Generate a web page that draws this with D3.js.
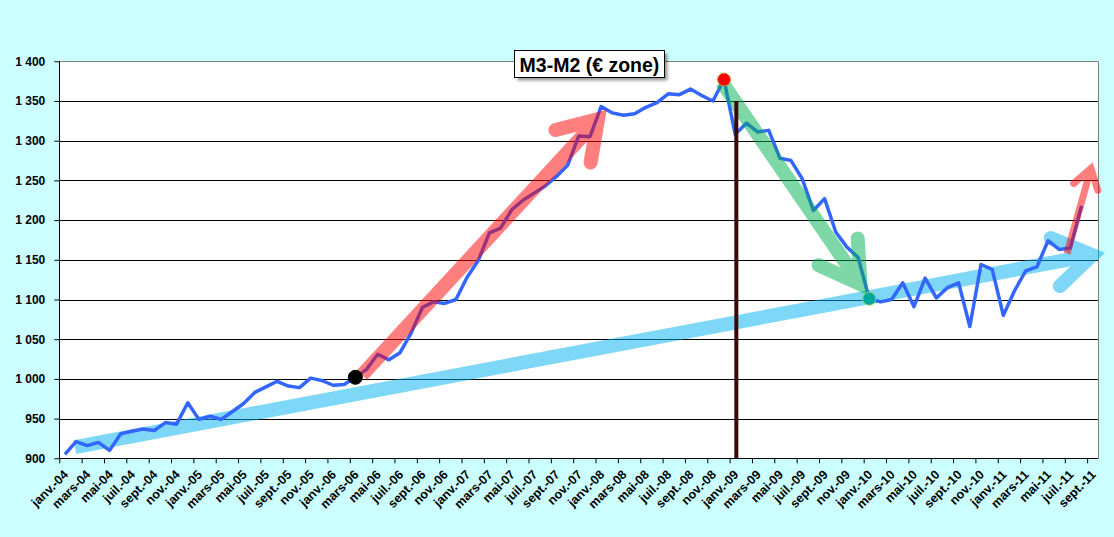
<!DOCTYPE html>
<html><head><meta charset="utf-8">
<script src="https://cdn.jsdelivr.net/npm/d3@7"></script>
<style>html,body{margin:0;padding:0;background:#ccffff;overflow:hidden}</style>
</head><body>
<svg id="c" width="1114" height="537"></svg>
<script>
// ---------- data ----------
const monthNames = ["janv.","févr.","mars","avr.","mai","juin","juil.","août","sept.","oct.","nov.","déc."];
const years = ["04","05","06","07","08","09","10","11"];
const categories = [];
years.forEach(y => monthNames.forEach(m => categories.push(m + "-" + y)));
categories.splice(93); // janv.-04 ... sept.-11

const values = [
  905, 921, 916, 920, 910, 931, 934, 937, 935, 945, 943, 970,
  949, 953, 949, 959, 969, 983, 990, 997, 991, 989, 1001, 998,
  992, 993, 1002, 1012, 1031, 1024, 1033, 1058, 1090, 1097, 1095, 1100,
  1128, 1149, 1184, 1190, 1213, 1225, 1234, 1243, 1255, 1269, 1306, 1305,
  1343, 1335, 1332, 1334, 1342, 1348, 1359, 1358, 1365, 1357, 1350, 1377,
  1308, 1322, 1311, 1313, 1278, 1275, 1252, 1212, 1227, 1185, 1166, 1153,
  1101, 1097, 1100, 1121, 1091, 1127, 1102, 1115, 1121, 1066, 1144, 1138,
  1080, 1111, 1136, 1141, 1174, 1163, 1165, 1218
];
const yTicks = [900, 950, 1000, 1050, 1100, 1150, 1200, 1250, 1300, 1350, 1400];
const xLabelEvery = 2;
const titleText = "M3-M2 (€ zone)";

// markers on data points (category index)
const markerIdx = [26, 59, 72];
// annotation arrows in data coordinates [month index, value]
const arrowFrom = [[0.9, 914], [26.6, 1005], [58.8, 1374], [89.7, 1158]];
const arrowTo   = [[93.1, 1159], [48.5, 1339], [71.9, 1105], [92.0, 1273]];
// vertical marker line [month index, from value, to value]
const vLine = [60.1, 1350, 900];

// ---------- styles ----------
const markerStyle = [
  {r: 7, fill: "#000000", stroke: "#000000"},
  {r: 6.5, fill: "#ff0000", stroke: "#c0a040"},
  {r: 6.5, fill: "#00a99d", stroke: "#8fd06a"}
];
const arrowStyle = [
  {color: "#00b0f0", w: 14, L: 45, angle: 33, opacity: 0.5},
  {color: "#ff0000", w: 14, L: 44, angle: 33, opacity: 0.5},
  {color: "#00b050", w: 14, L: 46, angle: 31, opacity: 0.5},
  {color: "#ff0000", w: 7, L: 23, angle: 33, opacity: 0.5}
];
const FONT = "Arial, 'Liberation Sans', sans-serif";

// ---------- layout ----------
const pL = 59.3, pR = 1098.3, pT = 61.3, pB = 458.3;
const svg = d3.select("#c");
svg.append("rect").attr("width", 1114).attr("height", 537).attr("fill", "#ccffff");

const x = d3.scaleBand().domain(categories).range([pL, pR]).padding(0);
const bw = x.bandwidth();
const xl = d3.scaleLinear().domain([-0.5, categories.length - 0.5]).range([pL, pR]); // centers
const xb = d3.scaleLinear().domain([0, categories.length]).range([pL, pR]); // boundaries
const y = d3.scaleLinear().domain([900, 1400]).range([pB, pT]);

// plot area
svg.append("rect").attr("x", pL).attr("y", pT).attr("width", pR - pL).attr("height", pB - pT).attr("fill", "#ffffff");

// gridlines
svg.append("g").selectAll("line").data(yTicks.filter(v => v > 900 && v < 1400)).join("line")
  .attr("x1", pL).attr("x2", pR)
  .attr("y1", d => Math.round(y(d)) + 0.5).attr("y2", d => Math.round(y(d)) + 0.5)
  .attr("stroke", "#000").attr("stroke-width", 1);

// border top/right gray
svg.append("path").attr("d", `M${pL},${Math.round(pT)+0.5}H${Math.round(pR)+0.5}V${pB}`)
  .attr("fill", "none").attr("stroke", "#808080").attr("stroke-width", 1);

// arrows
function drawArrow(i) {
  const st = arrowStyle[i];
  const S = [xl(arrowFrom[i][0]), y(arrowFrom[i][1])];
  const T = [xl(arrowTo[i][0]), y(arrowTo[i][1])];
  const dx = T[0] - S[0], dy = T[1] - S[1], len = Math.hypot(dx, dy);
  const ux = dx / len, uy = dy / len;
  const ang = st.angle * Math.PI / 180;
  const ext = (st.w / 2) / Math.sin(ang);
  const Tp = [T[0] - ux * ext, T[1] - uy * ext];
  const rot = (vx, vy, t) => [vx * Math.cos(t) - vy * Math.sin(t), vx * Math.sin(t) + vy * Math.cos(t)];
  const r1 = rot(-ux, -uy, ang), r2 = rot(-ux, -uy, -ang);
  const A1 = [Tp[0] + r1[0] * st.L, Tp[1] + r1[1] * st.L];
  const A2 = [Tp[0] + r2[0] * st.L, Tp[1] + r2[1] * st.L];
  const g = svg.append("g").attr("opacity", st.opacity);
  g.append("path").attr("d", d3.line()([S, Tp])).attr("fill", "none")
    .attr("stroke", st.color).attr("stroke-width", st.w).attr("stroke-linecap", "butt");
  g.append("path").attr("d", d3.line()([A1, Tp, A2])).attr("fill", "none")
    .attr("stroke", st.color).attr("stroke-width", st.w).attr("stroke-linecap", "round")
    .attr("stroke-linejoin", "miter").attr("stroke-miterlimit", 10);
}

drawArrow(0);

// data line
const line = d3.line().x((d, i) => x(categories[i]) + bw / 2).y(d => y(d));
svg.append("path").datum(values).attr("d", line).attr("fill", "none")
  .attr("stroke", "#3366ff").attr("stroke-width", 3.5).attr("stroke-linejoin", "round");

drawArrow(1);
drawArrow(3);
drawArrow(2);

// vertical line
svg.append("line").attr("x1", xl(vLine[0])).attr("x2", xl(vLine[0]))
  .attr("y1", y(vLine[1])).attr("y2", y(vLine[2]))
  .attr("stroke", "#3a0808").attr("stroke-width", 4);

// markers
svg.append("g").selectAll("circle").data(markerIdx).join("circle")
  .attr("cx", d => x(categories[d]) + bw / 2).attr("cy", d => y(values[d]))
  .attr("r", (d, i) => markerStyle[i].r)
  .attr("fill", (d, i) => markerStyle[i].fill)
  .attr("stroke", (d, i) => markerStyle[i].stroke).attr("stroke-width", 1);

// y axis
const fmt = d3.formatLocale({decimal: ",", thousands: "\u00a0", grouping: [3], currency: ["", "€"]}).format(",");
const yAxis = svg.append("g").attr("transform", `translate(${pL},0)`)
  .call(d3.axisLeft(y).tickValues(yTicks).tickSize(5).tickPadding(9).tickFormat(fmt));
yAxis.select(".domain").remove();
yAxis.selectAll(".tick line").attr("stroke", "#000");
yAxis.selectAll("text").attr("font-family", FONT).attr("font-size", 12).attr("font-weight", "bold").attr("fill", "#000");

// x axis tick marks (between categories)
const xTicks = svg.append("g").attr("transform", `translate(0,${pB})`)
  .call(d3.axisBottom(xb).tickValues(d3.range(0, categories.length + 1, xLabelEvery)).tickSize(5).tickFormat(""));
xTicks.select(".domain").remove();
xTicks.selectAll(".tick line").attr("stroke", "#000");

// x labels
const xAxis = svg.append("g").attr("transform", `translate(0,${pB})`)
  .call(d3.axisBottom(x).tickValues(categories.filter((d, i) => i % xLabelEvery === 0)).tickSize(0));
xAxis.select(".domain").remove();
xAxis.selectAll("text").attr("font-family", FONT).attr("font-size", 12.5).attr("font-weight", "bold").attr("fill", "#000")
  .attr("text-anchor", "end").attr("dy", null).attr("y", null)
  .attr("transform", "translate(4,17) rotate(-45)");

// axis lines left & bottom
svg.append("path").attr("d", `M${Math.round(pL)+0.5},${pT}V${Math.round(pB)+0.5}H${pR}`)
  .attr("fill", "none").attr("stroke", "#000").attr("stroke-width", 1);

// title
const defs = svg.append("defs");
defs.append("filter").attr("id", "blur").append("feGaussianBlur").attr("stdDeviation", 1.5);
const tb = {x: 514.5, y: 50.5, w: 150, h: 27};
svg.append("rect").attr("x", tb.x + 3).attr("y", tb.y + 3).attr("width", tb.w).attr("height", tb.h)
  .attr("fill", "#000").attr("opacity", 0.4).attr("filter", "url(#blur)");
svg.append("rect").attr("x", tb.x).attr("y", tb.y).attr("width", tb.w).attr("height", tb.h)
  .attr("fill", "#fff").attr("stroke", "#000").attr("stroke-width", 1);
svg.append("text").attr("x", tb.x + tb.w / 2).attr("y", 71.5).attr("text-anchor", "middle")
  .attr("font-family", FONT).attr("font-size", 19.5).attr("font-weight", "bold").attr("fill", "#000")
  .text(titleText);
</script>
</body></html>
